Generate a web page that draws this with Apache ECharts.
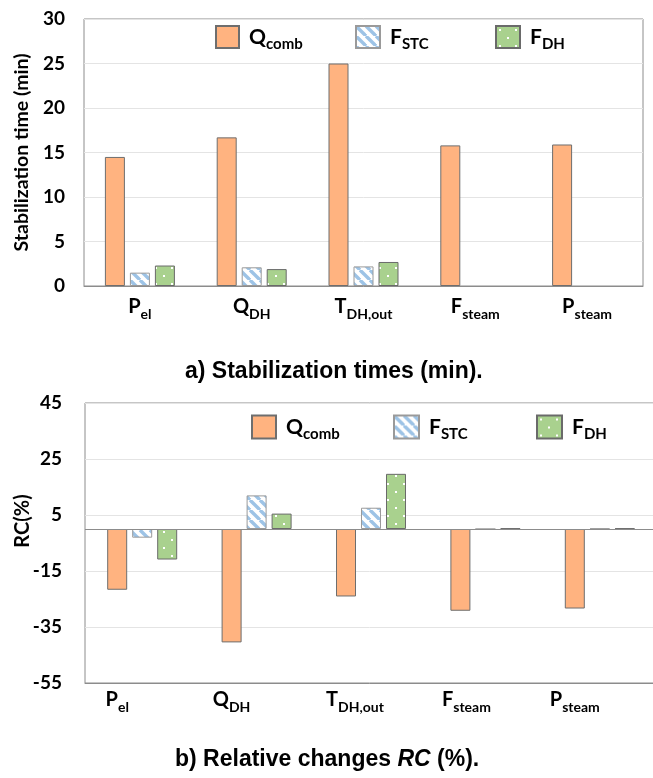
<!DOCTYPE html>
<html>
<head>
<meta charset="utf-8">
<script src="https://cdn.jsdelivr.net/npm/echarts@6/dist/echarts.min.js"></script>
<style>
  html, body { margin: 0; padding: 0; background: #ffffff; }
  #chart { width: 653px; height: 778px; }
</style>
</head>
<body>
<div id="chart"></div>
<script>
// Categories (main symbol + subscript, split on "_")
const categories = ['P_el', 'Q_DH', 'T_DH,out', 'F_steam', 'P_steam'];
const seriesNames = ['Q_comb', 'F_STC', 'F_DH'];

// a) Stabilization times (min); no bar for F_STC / F_DH on F_steam and P_steam
const stabQcomb = [14.5, 16.7, 25.0, 15.8, 15.9];
const stabFstc  = [1.5, 2.1, 2.2, null, null];
const stabFdh   = [2.3, 1.9, 2.7, null, null];
const stabTicks = [0, 5, 10, 15, 20, 25, 30];

// b) Relative changes RC (%)
const rcQcomb = [-21.7, -40.5, -24.1, -29.2, -28.4];
const rcFstc  = [-3.1, 12.0, 7.6, 0, 0.2];
const rcFdh   = [-10.9, 5.5, 19.7, 0.2, 0.2];
const rcTicks = [-55, -35, -15, 5, 25, 45];

const AXIS_FONT = 'Lato';
const CAPTION_FONT = '"Liberation Sans", Arial, sans-serif';

// Fill patterns: light-blue diagonal stripes and green with white dots
function stripePattern() {
  const c = document.createElement('canvas');
  c.width = 10; c.height = 10;
  const g = c.getContext('2d');
  g.fillStyle = '#ffffff';
  g.fillRect(0, 0, 10, 10);
  g.strokeStyle = '#9dc3e6';
  g.lineWidth = 3.4;
  [-10, 0, 10].forEach(function (o) {
    g.beginPath();
    g.moveTo(o, 0);
    g.lineTo(o + 10, 10);
    g.stroke();
  });
  return c;
}
function dotPattern() {
  const c = document.createElement('canvas');
  c.width = 16; c.height = 16;
  const g = c.getContext('2d');
  g.fillStyle = '#a9d18e';
  g.fillRect(0, 0, 16, 16);
  g.fillStyle = '#ffffff';
  g.fillRect(3, 3, 2, 2);
  g.fillRect(11, 11, 2, 2);
  return c;
}

const styles = [
  { color: '#ffb380', borderColor: '#6e6e6e', borderWidth: 1 },
  { color: { image: stripePattern(), repeat: 'repeat' }, borderColor: '#9a9a9a', borderWidth: 1 },
  { color: { image: dotPattern(), repeat: 'repeat' }, borderColor: '#6a6a6a', borderWidth: 1 }
];

function subLabel(name) {
  const i = name.indexOf('_');
  return '{m|' + name.slice(0, i) + '}{s|' + name.slice(i + 1) + '}';
}

// In the lower panel the category names sit a little left of each bar group
const lowerLabelShift = [50, 50, 32, 38, 50];
function subLabelShifted(name, index) {
  const i = name.indexOf('_');
  return '{m|' + name.slice(0, i) + '}{s|' + name.slice(i + 1) + '}{gap' + index + '|}';
}

const labelRich = {
  m: { fontFamily: AXIS_FONT, fontWeight: 'bold', fontSize: 20, lineHeight: 24, color: '#000' },
  s: { fontFamily: AXIS_FONT, fontWeight: 'bold', fontSize: 14, lineHeight: 14, padding: [14, 0, 0, 0], color: '#000' }
};
const lowerLabelRich = Object.assign({}, labelRich);
lowerLabelShift.forEach(function (w, k) {
  lowerLabelRich['gap' + k] = { width: w, lineHeight: 14 };
});

const legendRich = {
  m: { fontFamily: AXIS_FONT, fontWeight: 'bold', fontSize: 21, lineHeight: 24, padding: [0, 0, 0, 5], color: '#000' },
  s: { fontFamily: AXIS_FONT, fontWeight: 'bold', fontSize: 15, lineHeight: 14, padding: [15, 0, 0, 0], color: '#000' }
};

function legendItem(name, left, top, w, h) {
  return {
    data: [name],
    left: left, top: top, padding: 0,
    icon: 'rect', itemWidth: w, itemHeight: h,
    selectedMode: false,
    formatter: subLabel,
    textStyle: { rich: legendRich }
  };
}

const grids = [
  { left: 84, top: 19, width: 559, height: 267 },
  { left: 85, top: 403, width: 572, height: 280 }
];

function xAxisFor(gridIndex, margin, formatter, rich) {
  return {
    type: 'category', gridIndex: gridIndex, data: categories,
    axisLine: { show: true, onZero: false, lineStyle: { color: '#8c8c8c' } },
    axisTick: { show: false },
    axisLabel: { margin: margin, formatter: formatter, rich: rich, interval: 0 },
    splitLine: { show: false }
  };
}

const series = [];
[[stabQcomb, stabFstc, stabFdh], [rcQcomb, rcFstc, rcFdh]].forEach(function (set, gi) {
  set.forEach(function (vals, si) {
    const s = {
      name: seriesNames[si], type: 'bar',
      xAxisIndex: gi, yAxisIndex: gi,
      data: vals, barWidth: 20, barGap: '25%',
      itemStyle: styles[si],
      emphasis: { disabled: true },
      animation: false
    };
    if (gi === 1 && si === 0) {
      // zero line of the relative-change panel
      s.markLine = {
        silent: true, symbol: 'none', animation: false,
        label: { show: false },
        lineStyle: { color: '#8c8c8c', type: 'solid', width: 1 },
        data: [{ yAxis: 0 }]
      };
    }
    series.push(s);
  });
});

const tickLabel = { fontFamily: AXIS_FONT, fontWeight: 'bold', fontSize: 19, color: '#000' };

const option = {
  backgroundColor: '#ffffff',
  animation: false,
  grid: grids.map(function (g) {
    return Object.assign({ show: true, borderColor: '#8c8c8c', borderWidth: 1, containLabel: false, outerBoundsMode: 'none' }, g);
  }),
  legend: [
    legendItem('Q_comb', 215, 22, 23, 22),
    legendItem('F_STC', 355, 22, 24, 22),
    legendItem('F_DH', 495, 22, 24, 22),
    legendItem('Q_comb', 251, 412, 24, 23),
    legendItem('F_STC', 393, 412, 25, 23),
    legendItem('F_DH', 536, 412, 25, 23)
  ],
  xAxis: [
    xAxisFor(0, 9, subLabel, labelRich),
    xAxisFor(1, 5, subLabelShifted, lowerLabelRich)
  ],
  yAxis: [
    {
      type: 'value', gridIndex: 0, min: 0, max: 30, interval: 5,
      name: 'Stabilization time (min)', nameLocation: 'middle', nameGap: 50,
      nameTextStyle: { fontFamily: AXIS_FONT, fontWeight: 'bold', fontSize: 19.5, color: '#000' },
      axisLine: { show: false }, axisTick: { show: false },
      axisLabel: Object.assign({ margin: 19, customValues: stabTicks }, tickLabel),
      splitLine: { lineStyle: { color: '#e4e4e4', width: 1 } }
    },
    {
      type: 'value', gridIndex: 1, min: -55, max: 45,
      axisLine: { show: false },
      axisTick: { show: false, customValues: rcTicks },
      axisLabel: Object.assign({ margin: 23, customValues: rcTicks }, tickLabel),
      splitLine: { lineStyle: { color: '#e4e4e4', width: 1 } }
    }
  ],
  // axis title of the relative-change panel, set a little above the panel middle
  graphic: [
    {
      type: 'text', x: 23, y: 521, rotation: Math.PI / 2, silent: true,
      style: {
        text: 'RC(%)', fill: '#000',
        font: 'bold 20px Lato',
        align: 'center', verticalAlign: 'middle'
      }
    }
  ],
  title: [
    {
      text: 'a) Stabilization times (min).',
      left: 180, top: 356,
      textStyle: { fontFamily: CAPTION_FONT, fontWeight: 'bold', fontSize: 23, lineHeight: 22, color: '#000' }
    },
    {
      text: '{n|b) Relative changes }{i|RC}{n| (%).}',
      left: 170, top: 744,
      textStyle: {
        rich: {
          n: { fontFamily: CAPTION_FONT, fontWeight: 'bold', fontSize: 23, lineHeight: 22, color: '#000' },
          i: { fontFamily: CAPTION_FONT, fontWeight: 'bold', fontStyle: 'italic', fontSize: 23, lineHeight: 22, color: '#000' }
        }
      }
    }
  ],
  series: series
};

const chart = echarts.init(document.getElementById('chart'), null, { renderer: 'canvas' });
chart.setOption(option);
</script>
</body>
</html>
